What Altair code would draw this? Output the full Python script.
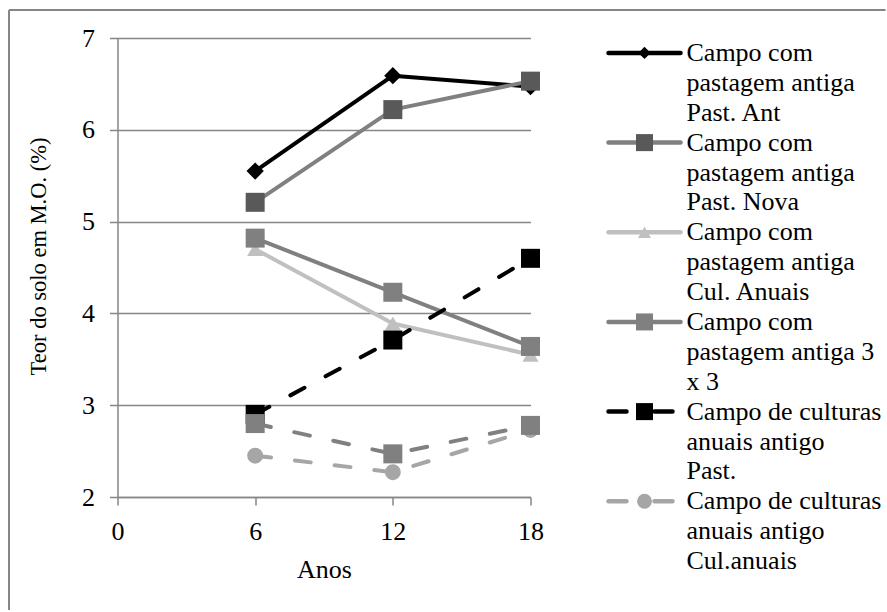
import altair as alt
import pandas as pd

# Years of observation
anos = [6, 12, 18]

# Organic matter content (%) per field history
serie_nomes = [
    "Campo com pastagem antiga Past. Ant",
    "Campo com pastagem antiga Past. Nova",
    "Campo com pastagem antiga Cul. Anuais",
    "Campo com pastagem antiga 3 x 3",
    "Campo de culturas anuais antigo Past.",
    "Campo de culturas anuais antigo Cul.anuais",
    "Campo de culturas anuais antigo 3 x 3",
]
past_ant = [5.55, 6.59, 6.47]
past_nova = [5.21, 6.22, 6.53]
pas_cul_anuais = [4.70, 3.89, 3.55]
pas_3x3 = [4.82, 4.23, 3.64]
cult_past = [2.90, 3.71, 4.60]
cult_cul_anuais = [2.45, 2.27, 2.73]
cult_3x3 = [2.80, 2.47, 2.78]

valores = [past_ant, past_nova, pas_cul_anuais, pas_3x3,
           cult_past, cult_cul_anuais, cult_3x3]

# Legend text, wrapped as in the legend box
legenda_linhas = [
    ["Campo com", "pastagem antiga", "Past. Ant"],
    ["Campo com", "pastagem antiga", "Past. Nova"],
    ["Campo com", "pastagem antiga", "Cul. Anuais"],
    ["Campo com", "pastagem antiga 3", "x 3"],
    ["Campo de culturas", "anuais antigo", "Past."],
    ["Campo de culturas", "anuais antigo", "Cul.anuais"],
]

FONT = "Liberation Serif"
AXIS_GRAY = "#868686"
DASH = [16, 24]

# (line colour, marker colour, shape, marker size, legend marker size, dashed)
estilos = [
    ("#000000", "#000000", "diamond", 300, 150, False),
    ("#808080", "#595959", "square", 361, 290, False),
    ("#c0c0c0", "#c0c0c0", "triangle-up", 260, 170, False),
    ("#808080", "#808080", "square", 361, 290, False),
    ("#000000", "#000000", "square", 361, 290, True),
    ("#a6a6a6", "#a6a6a6", "circle", 254, 220, True),
    ("#808080", "#808080", "square", 361, 290, True),
]

df = pd.DataFrame(
    [
        {"serie": nome, "ordem": i, "ano": a, "mo": v}
        for i, (nome, vals) in enumerate(zip(serie_nomes, valores))
        for a, v in zip(anos, vals)
    ]
)

x_scale = alt.Scale(domain=[0, 18], nice=False)
y_scale = alt.Scale(domain=[2, 7], nice=False)

x_axis = alt.Axis(
    values=[0, 6, 12, 18], title="Anos", grid=False,
    domainColor=AXIS_GRAY, domainWidth=1.5,
    tickColor=AXIS_GRAY, tickWidth=1.5, tickSize=8,
    labelFont=FONT, labelFontSize=26, labelColor="black", labelPadding=13,
    labelFlush=False,
    titleFont=FONT, titleFontSize=26, titleFontWeight="normal",
    titleColor="black", titlePadding=12,
)
y_axis = alt.Axis(
    values=[2, 3, 4, 5, 6, 7], title="Teor do solo em M.O. (%)",
    grid=True, gridColor=AXIS_GRAY, gridWidth=1.5,
    domainColor=AXIS_GRAY, domainWidth=1.5,
    tickColor=AXIS_GRAY, tickWidth=1.5, tickSize=8,
    labelFont=FONT, labelFontSize=26, labelColor="black", labelPadding=15,
    labelFlush=False,
    titleFont=FONT, titleFontSize=22.5, titleFontWeight="normal",
    titleColor="black", titlePadding=31, titleY=218,
)

enc_x = alt.X("ano:Q", scale=x_scale, axis=x_axis)
enc_y = alt.Y("mo:Q", scale=y_scale, axis=y_axis)

base = alt.Chart(df)
camadas = []
for i, (lc, mc, shape, size, _, dashed) in enumerate(estilos):
    sub = base.transform_filter(alt.datum.ordem == i)
    line_kw = dict(color=lc, strokeWidth=4, strokeCap="round", strokeJoin="round")
    if dashed:
        line_kw["strokeDash"] = DASH
    camadas.append(sub.mark_line(**line_kw).encode(x=enc_x, y=enc_y))
    camadas.append(
        sub.mark_point(shape=shape, size=size, filled=True, fill=mc,
                       strokeWidth=0, opacity=1)
        .encode(x=enc_x, y=enc_y)
    )

# Outer chart frame (left and top edges)
um = pd.DataFrame({"k": [0]})
moldura_esq = alt.Chart(um).mark_rule(color=AXIS_GRAY, strokeWidth=2).encode(
    x=alt.value(-108.5), y=alt.value(-28), y2=alt.value(572)
)
moldura_topo = alt.Chart(um).mark_rule(color=AXIS_GRAY, strokeWidth=2).encode(
    x=alt.value(-108.5), x2=alt.value(768), y=alt.value(-28)
)

principal = alt.layer(*camadas, moldura_esq, moldura_topo).properties(
    width=413, height=459
)

# Legend panel
leg_txt = pd.DataFrame(
    [
        {"linha": 3 * i + j, "texto": t}
        for i, linhas in enumerate(legenda_linhas)
        for j, t in enumerate(linhas)
    ]
)
leg_sym = pd.DataFrame(
    [{"linha": 3 * i, "ordem": i} for i in range(len(legenda_linhas))]
)
leg_y_scale = alt.Scale(domain=[-0.5, 17.5], reverse=True, nice=False)
leg_y = alt.Y("linha:Q", scale=leg_y_scale, axis=None)

leg_layers = []
for i in range(len(legenda_linhas)):
    lc, mc, shape, size, lsize, dashed = estilos[i]
    sub = alt.Chart(leg_sym).transform_filter(alt.datum.ordem == i)
    rule_kw = dict(color=lc, strokeWidth=4.5, strokeCap="round")
    if dashed:
        rule_kw["strokeDash"] = [18, 28]
    leg_layers.append(
        sub.mark_rule(**rule_kw).encode(y=leg_y, x=alt.value(8), x2=alt.value(72 if dashed else 80))
    )
    leg_layers.append(
        sub.mark_point(shape=shape, size=lsize, filled=True, fill=mc,
                       strokeWidth=0, opacity=1)
        .encode(y=leg_y, x=alt.value(44))
    )
leg_layers.append(
    alt.Chart(leg_txt).mark_text(
        align="left", baseline="middle", font=FONT, fontSize=26,
        color="black", limit=200, ellipsis=" ",
    ).encode(y=leg_y, x=alt.value(86), text="texto:N")
)
legenda = alt.layer(*leg_layers).properties(width=200, height=538)

chart = (
    alt.hconcat(principal, legenda, spacing=70, bounds="flush")
    .properties(padding={"left": 7.5, "top": 9, "right": 0, "bottom": 0},
                background="white")
    .configure(font=FONT)
    .configure_view(strokeWidth=0)
)

chart.save("out.html", embed_options={"renderer": "svg", "actions": False})
